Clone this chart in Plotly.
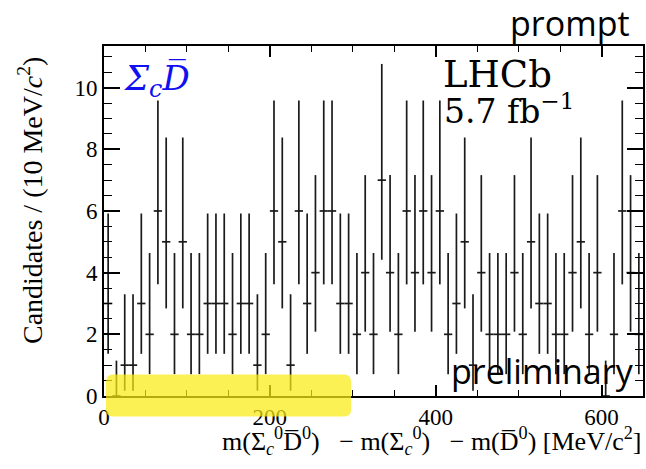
import numpy as np
import plotly.graph_objects as go

# ---------------- data ----------------
bin_width = 10.0
mass_centers = np.arange(5, 650, 10)  # MeV/c^2, 10 MeV bins from 0 to 650
counts = [3, 0, 1, 1, 3, 2, 6, 5, 2, 5, 2, 2, 3, 3, 3, 2, 3, 3, 1, 2,
          6, 5, 1, 6, 3, 4, 6, 6, 3, 3, 2, 4, 2, 7, 4, 2, 6, 4, 6, 4,
          6, 2, 3, 5, 1, 4, 2, 2, 2, 4, 2, 5, 3, 3, 2, 2, 4, 5, 2, 4,
          0, 2, 6, 4, 2]
# 68% Poisson intervals (RooFit convention) for n = 0..7
pois_low = {0: 0.0, 1: 0.1727, 2: 0.7082, 3: 1.3672, 4: 2.0857, 5: 2.8403, 6: 3.6201, 7: 4.4185}
pois_high = {0: 1.1479, 1: 3.2995, 2: 4.6378, 3: 5.9182, 4: 7.1628, 5: 8.3825, 6: 9.5828, 7: 10.7680}

x_ticks = [0, 200, 400, 600]
y_ticks = [0, 2, 4, 6, 8, 10]

err_plus = [pois_high[n] - n for n in counts]
err_minus = [n - pois_low[n] for n in counts]

# --------------- geometry helpers (pixel -> paper) ---------------
W, H = 646, 469
L, R, T, B = 104, 1, 46, 72.5
PW = W - L - R
PH = H - T - B


def px(x):
    return (x - L) / PW


def py(y):
    return (H - B - y) / PH


fig = go.Figure()
fig.add_trace(go.Scatter(
    x=mass_centers, y=counts, mode="markers",
    marker=dict(size=1, color="#1a1a1a"),
    error_y=dict(type="data", symmetric=False, array=err_plus, arrayminus=err_minus,
                 thickness=1.7, width=0, color="#1a1a1a"),
    error_x=dict(type="constant", value=bin_width / 2, thickness=1.7, width=0, color="#1a1a1a"),
    showlegend=False, cliponaxis=True,
))

serif = "Liberation Serif"
axis_common = dict(showline=True, linecolor="black", linewidth=1.6, mirror="allticks",
                   ticks="inside", tickcolor="black", tickwidth=1.5,
                   showgrid=False, zeroline=False,
                   tickfont=dict(family=serif, size=23, color="black"))

fig.update_layout(
    width=W, height=H,
    margin=dict(l=L, r=R, t=T, b=B, pad=0),
    paper_bgcolor="white", plot_bgcolor="white",
    xaxis=dict(range=[0, 650], tickvals=x_ticks, ticklen=11,
               minor=dict(dtick=50, ticklen=6, ticks="inside", tickcolor="black", tickwidth=1.3),
               **axis_common),
    yaxis=dict(range=[0, 11.35], tickvals=y_ticks, ticklen=16,
               minor=dict(dtick=0.5, ticklen=8, ticks="inside", tickcolor="black", tickwidth=1.3),
               **axis_common),
)

NB = "\u00a0"
xtitle = (f"m(Σ<sub><i>c</i></sub><sup>0</sup>D̅<sup>0</sup>){NB}{NB}{NB}−{NB}m(Σ<sub><i>c</i></sub><sup>0</sup>)"
          f"{NB}{NB}{NB}−{NB}m(D̅<sup>0</sup>){NB}[MeV/c<sup>2</sup>]")

ann = []
# axis titles
ann.append(dict(text="Candidates / (10 MeV/<i>c</i><sup>2</sup>)", xref="paper", yref="paper",
                x=px(31), y=py(201), textangle=-90, showarrow=False,
                font=dict(family=serif, size=28, color="black"), xanchor="center", yanchor="middle"))
ann.append(dict(text=xtitle,
                xref="paper", yref="paper", x=px(645), y=py(442), showarrow=False,
                font=dict(family=serif, size=26, color="black"), xanchor="right", yanchor="middle"))
# in-plot labels
ann.append(dict(text="<i>Σ<sub>c</sub>D̅</i>", xref="paper", yref="paper", x=px(121), y=py(81),
                showarrow=False, font=dict(family="DejaVu Serif", size=34, color="#1010f0"),
                xanchor="left", yanchor="middle"))
ann.append(dict(text="LHCb", xref="paper", yref="paper", x=px(442), y=py(75), showarrow=False,
                font=dict(family="DejaVu Serif", size=37, color="black"), xanchor="left", yanchor="middle"))
ann.append(dict(text="5.7 fb<sup>−1</sup>", xref="paper", yref="paper", x=px(443), y=py(110), showarrow=False,
                font=dict(family="DejaVu Serif", size=33, color="black"), xanchor="left", yanchor="middle"))
ann.append(dict(text="prompt", xref="paper", yref="paper", x=px(634), y=py(23), showarrow=False,
                font=dict(family="Open Sans", size=34, color="black"), xanchor="right", yanchor="middle"))
ann.append(dict(text="preliminary", xref="paper", yref="paper", x=px(638), y=py(371), showarrow=False,
                font=dict(family="Open Sans", size=34, color="black"), xanchor="right", yanchor="middle"))
fig.update_layout(annotations=ann)

# yellow highlight (rounded rectangle) in paper coordinates
x0, x1, y0, y1 = px(106), px(352), py(417), py(375)
rx, ry = 7 / PW, 7 / PH
path = (f"M {x0+rx},{y0} L {x1-rx},{y0} Q {x1},{y0} {x1},{y0+ry} L {x1},{y1-ry} Q {x1},{y1} {x1-rx},{y1} "
        f"L {x0+rx},{y1} Q {x0},{y1} {x0},{y1-ry} L {x0},{y0+ry} Q {x0},{y0} {x0+rx},{y0} Z")
fig.add_shape(type="path", path=path, xref="paper", yref="paper",
              fillcolor="rgba(250,236,20,0.72)", line=dict(width=0), layer="above")

fig.write_html("out.html", config={"displayModeBar": False},
               post_script="document.body.style.margin='0';document.body.style.overflow='hidden';")
